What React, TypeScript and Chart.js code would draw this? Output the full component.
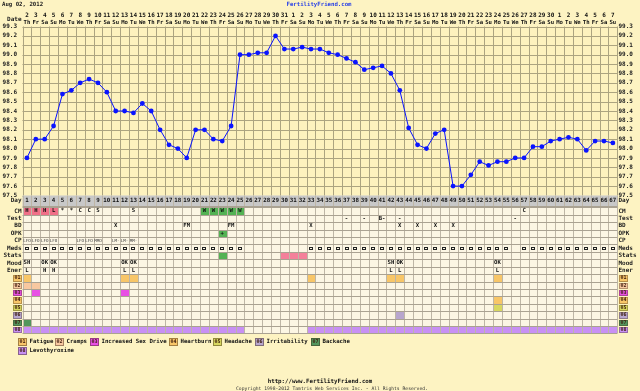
import React, { useEffect, useRef } from "react";
import { Chart, registerables } from "chart.js";
Chart.register(...registerables);

// ---------- data ----------
const DAY_NUMBERS = [
  1, 2, 3, 4, 5, 6, 7, 8, 9, 10, 11, 12, 13, 14, 15, 16, 17, 18, 19, 20, 21, 22, 23, 24, 25, 26, 27, 28, 29, 30,
  31, 32, 33, 34, 35, 36, 37, 38, 39, 40, 41, 42, 43, 44, 45, 46, 47, 48, 49, 50, 51, 52, 53, 54, 55, 56, 57, 58,
  59, 60, 61, 62, 63, 64, 65, 66, 67,
];
const DATES = [
  "2", "3", "4", "5", "6", "7", "8", "9", "10", "11", "12", "13", "14", "15", "16", "17", "18", "19", "20", "21",
  "22", "23", "24", "25", "26", "27", "28", "29", "30", "31",
  "1", "2", "3", "4", "5", "6", "7", "8", "9", "10", "11", "12", "13", "14", "15", "16", "17", "18", "19", "20",
  "21", "22", "23", "24", "25", "26", "27", "28", "29", "30",
  "1", "2", "3", "4", "5", "6", "7",
];
const WEEKDAYS = [
  "Th", "Fr", "Sa", "Su", "Mo", "Tu", "We", "Th", "Fr", "Sa", "Su", "Mo", "Tu", "We",
  "Th", "Fr", "Sa", "Su", "Mo", "Tu", "We", "Th", "Fr", "Sa", "Su", "Mo", "Tu", "We",
  "Th", "Fr", "Sa", "Su", "Mo", "Tu", "We", "Th", "Fr", "Sa", "Su", "Mo", "Tu", "We",
  "Th", "Fr", "Sa", "Su", "Mo", "Tu", "We", "Th", "Fr", "Sa", "Su", "Mo", "Tu", "We",
  "Th", "Fr", "Sa", "Su", "Mo", "Tu", "We", "Th", "Fr", "Sa", "Su",
];
const TEMPS = [
  97.9, 98.1, 98.1, 98.24, 98.58, 98.62, 98.7, 98.74, 98.7, 98.6,
  98.4, 98.4, 98.38, 98.48, 98.4, 98.2, 98.04, 98.0, 97.9, 98.2,
  98.2, 98.1, 98.08, 98.24, 99.0, 99.0, 99.02, 99.02, 99.2, 99.06,
  99.06, 99.08, 99.06, 99.06, 99.02, 99.0, 98.96, 98.92, 98.84, 98.86,
  98.88, 98.8, 98.62, 98.22, 98.04, 98.0, 98.16, 98.2, 97.6, 97.6,
  97.72, 97.86, 97.82, 97.86, 97.86, 97.9, 97.9, 98.02, 98.02, 98.08,
  98.1, 98.12, 98.1, 97.98, 98.08, 98.08, 98.06,
];
const Y_TICKS = [
  "97.5", "97.6", "97.7", "97.8", "97.9", "98.0", "98.1", "98.2", "98.3", "98.4",
  "98.5", "98.6", "98.7", "98.8", "98.9", "99.0", "99.1", "99.2", "99.3",
];
const ROW_LABELS = ["CM", "Test", "BD", "OPK", "CP", "Meds", "Stats", "Mood", "Ener"];
const CM_MARKS: [number, string][] = [
  [1, "H"], [2, "H"], [3, "H"], [4, "L"], [5, "*"], [6, "*"], [7, "C"], [8, "C"], [9, "S"], [13, "S"],
  [21, "W"], [22, "W"], [23, "W"], [24, "W"], [25, "W"], [57, "C"],
];
const TEST_MARKS: [number, string][] = [[37, "-"], [39, "-"], [41, "B-"], [43, "-"], [56, "-"]];
const BD_MARKS: [number, string][] = [
  [11, "X"], [19, "FM"], [24, "FM"], [33, "X"], [43, "X"], [45, "X"], [47, "X"], [49, "X"],
];
const OPK_MARKS: [number, string][] = [[23, "+"]];
const CP_MARKS: [number, string][] = [
  [1, "LFO"], [2, "LFO"], [3, "LFO"], [4, "LFO"], [7, "LFO"], [8, "LFO"], [9, "MMO"],
  [11, "LM-"], [12, "LM-"], [13, "MM-"],
];
const MEDS_DAYS = [
  1, 2, 3, 4, 5, 6, 7, 8, 9, 10, 11, 12, 13, 14, 15, 16, 17, 18, 19, 20, 21, 22, 23, 24, 25,
  33, 34, 35, 36, 37, 38, 39, 40, 41, 42, 43, 44, 45, 46, 47, 48, 49, 50, 51, 52, 53, 54, 55,
  57, 58, 59, 60, 61, 62, 63, 64, 65, 66, 67,
];
const STATS_GREEN_DAYS = [23];
const STATS_PINK_DAYS = [30, 31, 32];
const MOOD_MARKS: [number, string][] = [
  [1, "SH"], [3, "OK"], [4, "OK"], [12, "OK"], [13, "OK"], [42, "SH"], [43, "OK"], [54, "OK"],
];
const ENERGY_MARKS: [number, string][] = [
  [1, "L"], [3, "H"], [4, "H"], [12, "L"], [13, "L"], [42, "L"], [43, "L"], [54, "L"],
];
const SYMPTOM_CODES = ["01", "02", "03", "04", "05", "06", "07", "08"];
const SYMPTOM_NAMES = [
  "Fatigue", "Cramps", "Increased Sex Drive", "Heartburn", "Headache", "Irritability", "Backache", "Levothyroxine",
];
const SYMPTOM_DAYS: number[][] = [
  [1, 12, 13, 33, 42, 43, 54],
  [1, 2],
  [2, 12],
  [54],
  [54],
  [43],
  [1],
  [
    1, 2, 3, 4, 5, 6, 7, 8, 9, 10, 11, 12, 13, 14, 15, 16, 17, 18, 19, 20, 21, 22, 23, 24, 25,
    33, 34, 35, 36, 37, 38, 39, 40, 41, 42, 43, 44, 45, 46, 47, 48, 49, 50, 51, 52, 53, 54, 55, 56,
    57, 58, 59, 60, 61, 62, 63, 64, 65, 66, 67,
  ],
];

// ---------- styles ----------
const PAGE_BG = "rgb(253,243,194)";
const PLOT_BG = "rgb(253,242,190)";
const GRID = "rgb(172,164,128)";
const TABLE_BG = "rgb(252,246,228)";
const TABLE_H = "rgb(170,162,146)";
const TABLE_V = "rgb(190,182,166)";
const DAY_BG = "rgb(200,200,200)";
const PINK = "rgb(240,112,136)";
const GREEN = "rgb(84,178,84)";
const STAT_PINK = "rgb(244,128,154)";
const SYMPTOM_COLORS = [
  "rgb(248,198,104)", "rgb(248,200,160)", "rgb(232,80,228)", "rgb(248,198,104)",
  "rgb(216,216,96)", "rgb(184,166,206)", "rgb(82,150,92)", "rgb(200,144,244)",
];
const LEGEND_POS: [number, number][] = [
  [18, 342], [55, 342], [90, 342], [169, 342], [213, 342], [255, 342], [311, 342], [18, 351],
];
const MONO = '"DejaVu Sans Mono"';
const snap = (v: number) => Math.round(v) + 0.5;

function txt(ctx: CanvasRenderingContext2D, s: string, x: number, y: number, size: number, color = "#111",
  align: CanvasTextAlign = "center", bold = true) {
  ctx.font = `${bold ? "bold " : ""}${size}px ${MONO}`;
  ctx.fillStyle = color;
  ctx.textAlign = align;
  ctx.textBaseline = "middle";
  ctx.fillText(s, x, y);
}

function marksSmall(ctx: CanvasRenderingContext2D, marks: [number, string][], cx: (d: number) => number,
  y: number, cw: number) {
  marks.forEach(([d, s]) => {
    ctx.font = `4.2px ${MONO}`;
    ctx.fillStyle = "#444";
    ctx.textAlign = "center";
    ctx.textBaseline = "middle";
    ctx.fillText(s, cx(d), y, cw - 1);
  });
}

const ffPlugin = {
  id: "ffTable",
  beforeDraw(chart: any) {
    const ctx: CanvasRenderingContext2D = chart.ctx;
    const ca = chart.chartArea;
    const xs = chart.scales.x;
    const ys = chart.scales.y;
    const n = DAY_NUMBERS.length;
    const cw = xs.getPixelForValue(1) - xs.getPixelForValue(0);
    const cx = (d: number) => xs.getPixelForValue(d - 1);
    const xl = (d: number) => cx(d) - cw / 2;
    ctx.save();
    ctx.fillStyle = PAGE_BG;
    ctx.fillRect(0, 0, chart.width, chart.height);
    ctx.fillStyle = PLOT_BG;
    ctx.fillRect(ca.left, ca.top, ca.right - ca.left, ca.bottom - ca.top);

    // plot grid
    ctx.lineWidth = 1;
    ctx.strokeStyle = GRID;
    ctx.beginPath();
    for (const t of Y_TICKS) {
      const yy = snap(ys.getPixelForValue(parseFloat(t)));
      ctx.moveTo(ca.left, yy);
      ctx.lineTo(ca.right, yy);
    }
    for (let d = 1; d <= n + 1; d++) {
      const xx = snap(xl(d));
      ctx.moveTo(xx, ca.top);
      ctx.lineTo(xx, ca.bottom);
    }
    ctx.stroke();

    // y labels
    for (const t of Y_TICKS) {
      const yy = ys.getPixelForValue(parseFloat(t));
      txt(ctx, t, 17, yy, 6, "#222", "right");
      txt(ctx, t, 618.5, yy, 6, "#222", "left");
    }

    // header
    txt(ctx, "Aug 02, 2012", 2, 5, 5.7, "#222", "left");
    txt(ctx, "FertilityFriend.com", 319, 5, 5.7, "rgb(40,64,230)", "center");
    txt(ctx, "Date", 21.5, 19, 6, "#222", "right");
    for (let i = 0; i < n; i++) {
      txt(ctx, DATES[i], cx(i + 1), 15.5, 6, "#111");
      txt(ctx, WEEKDAYS[i], cx(i + 1), 22.5, 5.6, "#111");
    }

    // table frame
    const dayTop = ca.bottom;
    const dayBot = ca.bottom + 10.5;
    const row0 = ca.bottom + 11.8;
    const rh = 7.42;
    const nRows = ROW_LABELS.length + SYMPTOM_CODES.length;
    const tBot = row0 + nRows * rh;
    const rowTop = (r: number) => row0 + r * rh;
    const rowMid = (r: number) => row0 + r * rh + rh / 2;

    ctx.fillStyle = DAY_BG;
    ctx.fillRect(ca.left, dayTop, ca.right - ca.left, dayBot - dayTop);
    ctx.fillStyle = TABLE_BG;
    ctx.fillRect(ca.left, dayBot, ca.right - ca.left, tBot - dayBot);

    const cell = (d: number, r: number, color: string) => {
      const x0 = Math.round(xl(d));
      const x1 = Math.round(xl(d + 1));
      const y0 = Math.round(rowTop(r));
      const y1 = Math.round(rowTop(r + 1));
      ctx.fillStyle = color;
      ctx.fillRect(x0 + 1, y0 + 1, x1 - x0 - 1, y1 - y0 - 1);
    };

    // fills
    for (const [d, s] of CM_MARKS) {
      if (s === "H" || s === "L") cell(d, 0, PINK);
      if (s === "W") cell(d, 0, GREEN);
    }
    for (const [d] of OPK_MARKS) cell(d, 3, GREEN);
    for (const d of STATS_GREEN_DAYS) cell(d, 6, GREEN);
    for (const d of STATS_PINK_DAYS) cell(d, 6, STAT_PINK);
    SYMPTOM_DAYS.forEach((days, k) => days.forEach((d) => cell(d, 9 + k, SYMPTOM_COLORS[k])));

    // table lines
    ctx.strokeStyle = TABLE_V;
    ctx.beginPath();
    for (let d = 1; d <= n + 1; d++) {
      const xx = snap(xl(d));
      ctx.moveTo(xx, dayTop);
      ctx.lineTo(xx, tBot);
    }
    ctx.stroke();
    ctx.strokeStyle = TABLE_H;
    ctx.beginPath();
    for (let r = 0; r <= nRows; r++) {
      const yy = snap(rowTop(r));
      ctx.moveTo(ca.left, yy);
      ctx.lineTo(ca.right, yy);
    }
    ctx.moveTo(ca.left, snap(dayBot));
    ctx.lineTo(ca.right, snap(dayBot));
    ctx.stroke();

    // day row
    const dayMid = (dayTop + dayBot) / 2;
    txt(ctx, "Day", 21.5, dayMid, 6, "#222", "right");
    txt(ctx, "Day", 618.5, dayMid, 6, "#222", "left");
    for (let i = 0; i < n; i++) txt(ctx, String(DAY_NUMBERS[i]), cx(i + 1), dayMid, 5.8, "#111");

    // row labels
    ROW_LABELS.forEach((l, r) => {
      txt(ctx, l, 21.5, rowMid(r), 6, "#222", "right");
      txt(ctx, l, 618.5, rowMid(r), 6, "#222", "left");
    });
    SYMPTOM_CODES.forEach((c, k) => {
      const r = 9 + k;
      const y0 = Math.round(rowTop(r)) + 1;
      const h = Math.round(rowTop(r + 1)) - Math.round(rowTop(r)) - 1;
      for (const bx of [13, 619]) {
        ctx.fillStyle = SYMPTOM_COLORS[k];
        ctx.fillRect(bx, y0, 9, h);
        ctx.strokeStyle = "rgba(60,40,20,0.35)";
        ctx.strokeRect(bx + 0.5, y0 + 0.5, 8, h - 1);
        txt(ctx, c, bx + 4.5, rowMid(r), 5, "#402010");
      }
    });

    // row texts
    const put = (marks: [number, string][], r: number, size = 5.6) =>
      marks.forEach(([d, s]) => txt(ctx, s, cx(d), rowMid(r), size, "#111"));
    put(CM_MARKS, 0);
    put(TEST_MARKS, 1);
    put(BD_MARKS, 2);
    put(OPK_MARKS, 3);
    marksSmall(ctx, CP_MARKS, cx, rowMid(4), cw);
    for (const d of MEDS_DAYS) {
      const x0 = Math.round(cx(d)) - 2;
      const y0 = Math.round(rowMid(5)) - 1;
      ctx.fillStyle = "#222";
      ctx.fillRect(x0, y0, 4, 1);
      ctx.fillRect(x0, y0 + 1, 1, 2);
      ctx.fillRect(x0 + 3, y0 + 1, 1, 2);
      ctx.fillRect(x0 + 1, y0 + 2, 2, 1);
    }
    put(MOOD_MARKS, 7);
    put(ENERGY_MARKS, 8);

    // legend
    SYMPTOM_CODES.forEach((c, k) => {
      const [lx, ly] = LEGEND_POS[k];
      ctx.fillStyle = SYMPTOM_COLORS[k];
      ctx.fillRect(lx, ly - 4, 9, 8);
      ctx.strokeStyle = "rgba(60,40,20,0.45)";
      ctx.strokeRect(lx + 0.5, ly - 3.5, 8, 7);
      txt(ctx, c, lx + 4.5, ly, 5, "#402010");
      txt(ctx, SYMPTOM_NAMES[k], lx + 11.5, ly, 5.7, "#111", "left");
    });

    // footer
    txt(ctx, "http://www.FertilityFriend.com", 320, 381.5, 5.8, "#111", "center");
    txt(ctx, "Copyright 1998-2012 Tamtris Web Services Inc. - All Rights Reserved.", 236, 389, 4.7, "#333", "left", false);
    ctx.restore();
  },
};

export default function App() {
  const ref = useRef<HTMLCanvasElement>(null);
  useEffect(() => {
    document.body.style.margin = "0";
    const canvas = ref.current;
    if (!canvas) return;
    const chart = new Chart(canvas, {
      type: "line",
      data: {
        labels: DAY_NUMBERS.map(String),
        datasets: [
          {
            data: TEMPS,
            borderColor: "rgb(10,20,255)",
            backgroundColor: "rgb(10,20,255)",
            borderWidth: 1,
            pointRadius: 2.4,
            pointBorderWidth: 0,
            pointBackgroundColor: "rgb(10,20,255)",
            tension: 0,
            clip: false as any,
          },
        ],
      },
      options: {
        responsive: false,
        devicePixelRatio: 1,
        animation: false,
        events: [],
        layout: { padding: { left: 22.5, right: 22.7, top: 26.5, bottom: 195.5 } },
        scales: {
          x: { type: "category", offset: true, display: false },
          y: { type: "linear", min: 97.5, max: 99.3, display: false },
        },
        plugins: { legend: { display: false }, tooltip: { enabled: false } },
      },
      plugins: [ffPlugin],
    });
    return () => chart.destroy();
  }, []);
  return <canvas ref={ref} width={640} height={391} style={{ display: "block" }} />;
}
